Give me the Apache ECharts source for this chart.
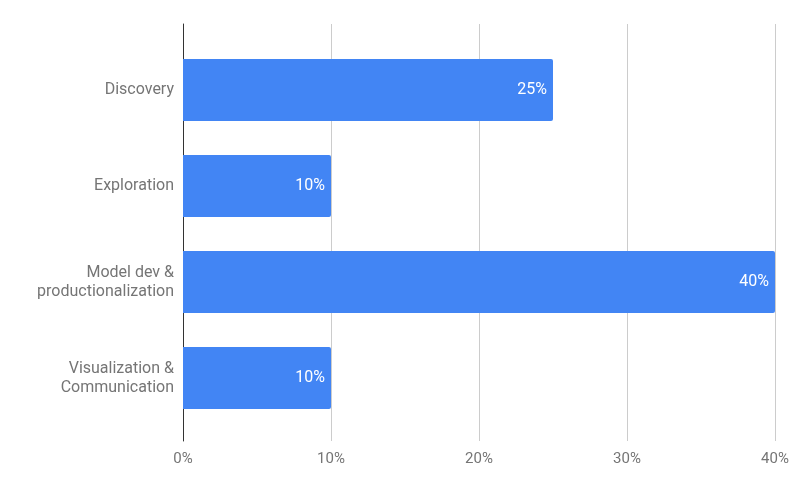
<!DOCTYPE html>
<html>
<head>
<meta charset="utf-8">
<script src="https://cdn.jsdelivr.net/npm/echarts@6/dist/echarts.min.js"></script>
<style>
  html, body { margin: 0; padding: 0; background: #fff; }
  #chart { width: 800px; height: 495px; }
</style>
</head>
<body>
<div id="chart"></div>
<script>
const categories = [
  "Discovery",
  "Exploration",
  "Model dev &\nproductionalization",
  "Visualization &\nCommunication"
];
const shares = [25, 10, 40, 10];
const ticks = [0, 10, 20, 30, 40];

const chart = echarts.init(document.getElementById("chart"));
const font = "Roboto, 'Noto Sans', sans-serif";

const options = {
  animation: false,
  // grid 0 carries the gridlines and x labels, grid 1 carries the bars
  grid: [
    { left: 183, right: 25, top: 24, bottom: 54 },
    { left: 183, right: 25, top: 42, bottom: 69 }
  ],
  xAxis: [
    {
      gridIndex: 0,
      type: "value",
      min: ticks[0],
      max: ticks[ticks.length - 1],
      interval: 10,
      axisLine: { show: false },
      axisTick: { show: false },
      splitLine: { lineStyle: { color: "#cccccc", width: 1 } },
      axisLabel: {
        color: "#757575",
        fontSize: 15,
        fontFamily: font,
        margin: 11,
        formatter: "{value}%"
      }
    },
    {
      gridIndex: 1,
      type: "value",
      min: ticks[0],
      max: ticks[ticks.length - 1],
      show: false
    }
  ],
  yAxis: [
    {
      gridIndex: 0,
      type: "category",
      data: [""],
      axisLine: { show: true, lineStyle: { color: "#333333", width: 1 } },
      axisTick: { show: false },
      axisLabel: { show: false },
      splitLine: { show: false }
    },
    {
      gridIndex: 1,
      type: "category",
      inverse: true,
      data: categories,
      axisLine: { show: false },
      axisTick: { show: false },
      axisLabel: {
        color: "#757575",
        fontSize: 16,
        fontFamily: font,
        margin: 9,
        lineHeight: 19,
        align: "right"
      }
    }
  ],
  series: [
    {
      type: "bar",
      xAxisIndex: 1,
      yAxisIndex: 1,
      data: shares,
      barWidth: 62,
      itemStyle: {
        color: "#4285f4",
        borderRadius: [0, 2, 2, 0]
      },
      label: {
        show: true,
        position: "insideRight",
        distance: 6,
        color: "#ffffff",
        fontSize: 16,
        fontFamily: font,
        formatter: "{c}%"
      }
    }
  ]
};

chart.setOption(options);
</script>
</body>
</html>
